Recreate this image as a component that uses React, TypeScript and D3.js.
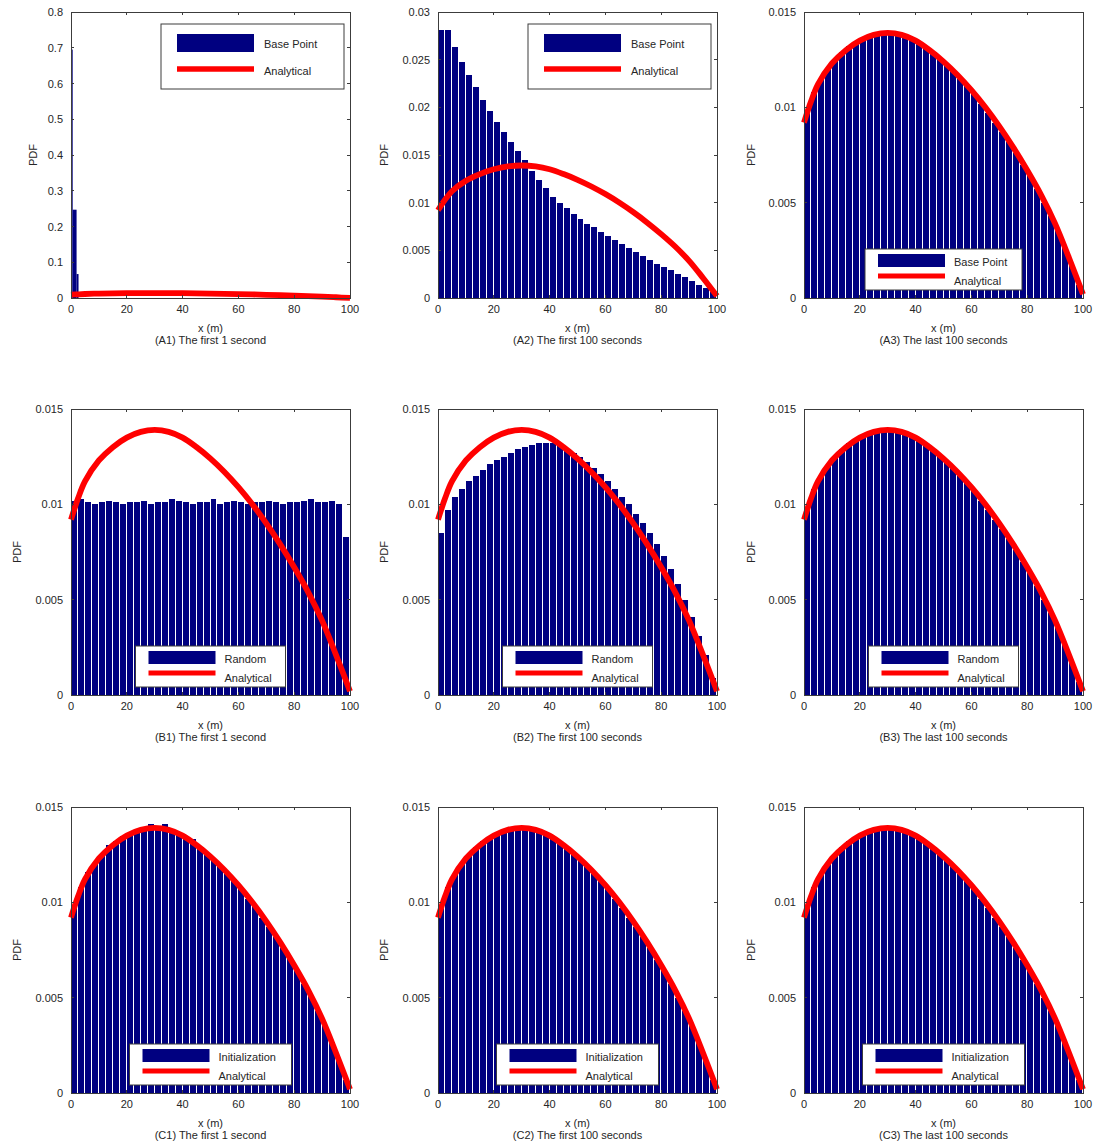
import React from "react";
import * as d3 from "d3";

// ---------- data ----------
const xTicks = [0, 20, 40, 60, 80, 100];
const yTicksA1 = [0, 0.1, 0.2, 0.3, 0.4, 0.5, 0.6, 0.7, 0.8];
const yLabelsA1 = ["0", "0.1", "0.2", "0.3", "0.4", "0.5", "0.6", "0.7", "0.8"];
const yTicksA2 = [0, 0.005, 0.01, 0.015, 0.02, 0.025, 0.03];
const yLabelsA2 = ["0", "0.005", "0.01", "0.015", "0.02", "0.025", "0.03"];
const yTicksPdf = [0, 0.005, 0.01, 0.015];
const yLabelsPdf = ["0", "0.005", "0.01", "0.015"];

// analytical PDF curve
const analyticalX = [0, 2.5, 5, 10, 15, 20, 25, 30, 35, 40, 45, 50, 55, 60, 65, 70, 75, 80, 85, 90, 95, 100];
const analyticalY = [0.0092, 0.0103, 0.0112, 0.0123, 0.0130, 0.0135, 0.0138, 0.0139, 0.0138, 0.0135, 0.0130, 0.0124, 0.0117, 0.0109, 0.0100, 0.0090, 0.0079, 0.0067, 0.0054, 0.0039, 0.0021, 0.0002];

// histogram bin width (m)
const binWidth = 2.5;

// A1: Base Point, first 1 second (irregular bins near the origin)
const a1BinStart = [0, 0.6, 2.0];
const a1BinEnd = [0.6, 2.0, 2.7];
const a1Values = [0.695, 0.247, 0.067];

// A2: Base Point, first 100 seconds
const a2Values = [
  0.0281, 0.0281, 0.0263, 0.0248, 0.0234, 0.0221, 0.0208, 0.0196, 0.0185, 0.0174,
  0.0164, 0.0154, 0.0145, 0.0133, 0.0124, 0.0115, 0.0106, 0.0100, 0.0094, 0.0088,
  0.0083, 0.0078, 0.0074, 0.0069, 0.0065, 0.0061, 0.0057, 0.0052, 0.0048, 0.0044,
  0.0040, 0.0036, 0.0032, 0.0029, 0.0025, 0.0022, 0.0018, 0.0014, 0.0010, 0.0006,
];

// B1: Random, first 1 second
const b1Values = [
  0.0102, 0.0103, 0.0101, 0.0100, 0.0101, 0.0102, 0.0101, 0.0100, 0.0101, 0.0101,
  0.0102, 0.0100, 0.0101, 0.0101, 0.0103, 0.0102, 0.0101, 0.0100, 0.0101, 0.0101,
  0.0103, 0.0100, 0.0101, 0.0102, 0.0101, 0.0100, 0.0101, 0.0101, 0.0102, 0.0101,
  0.0100, 0.0101, 0.0101, 0.0102, 0.0103, 0.0101, 0.0101, 0.0102, 0.0100, 0.0083,
];

// B2: Random, first 100 seconds
const b2Values = [
  0.0085, 0.0097, 0.0104, 0.0108, 0.0112, 0.0115, 0.0118, 0.0121, 0.0123, 0.0125,
  0.0127, 0.0129, 0.0130, 0.0131, 0.0132, 0.0132, 0.0132, 0.0131, 0.0129, 0.0127,
  0.0125, 0.0122, 0.0119, 0.0116, 0.0112, 0.0108, 0.0104, 0.0100, 0.0095, 0.0090,
  0.0085, 0.0079, 0.0073, 0.0066, 0.0058, 0.0050, 0.0041, 0.0031, 0.0021, 0.0009,
];

// converged histograms (A3, B3, C2, C3)
const convergedValues = [
  0.0098, 0.0108, 0.0115, 0.0120, 0.0125, 0.0129, 0.0132, 0.0134, 0.0136, 0.0137,
  0.0138, 0.0139, 0.0139, 0.0138, 0.0137, 0.0136, 0.0134, 0.0132, 0.0129, 0.0126,
  0.0122, 0.0119, 0.0115, 0.0111, 0.0107, 0.0102, 0.0097, 0.0092, 0.0087, 0.0082,
  0.0076, 0.0070, 0.0064, 0.0057, 0.0050, 0.0043, 0.0035, 0.0026, 0.0017, 0.0007,
];

// C1: Initialization, first 1 second
const c1Values = [
  0.0097, 0.0108, 0.0116, 0.0120, 0.0125, 0.0130, 0.0132, 0.0135, 0.0136, 0.0138,
  0.0138, 0.0141, 0.0140, 0.0141, 0.0137, 0.0137, 0.0135, 0.0133, 0.0129, 0.0126,
  0.0123, 0.0119, 0.0115, 0.0112, 0.0107, 0.0102, 0.0098, 0.0092, 0.0087, 0.0082,
  0.0076, 0.0071, 0.0064, 0.0057, 0.0051, 0.0043, 0.0035, 0.0027, 0.0017, 0.0007,
];

const titles = [
  "(A1) The first 1 second", "(A2) The first 100 seconds", "(A3) The last 100 seconds",
  "(B1) The first 1 second", "(B2) The first 100 seconds", "(B3) The last 100 seconds",
  "(C1) The first 1 second", "(C2) The first 100 seconds", "(C3) The last 100 seconds",
];

// ---------- layout ----------
const W = 1097;
const H = 1147;
const colLefts = [71, 438, 804];
const rowTops = [12, 409, 807];
const plotW = 279;
const plotH = 286;
const NAVY = "#000080";
const RED = "#ff0000";
const AXIS = "#3c3c3c";
const TEXT = "#262626";
const FONT = "'Liberation Sans', Arial, Helvetica, sans-serif";

type PanelCfg = {
  row: number;
  col: number;
  yMax: number;
  yTicks: number[];
  yLabels: string[];
  values: number[] | null;
  legendName: string;
  legendBig: boolean;
  legendW: number;
  pdfOffset: number;
  title: string;
};

const panels: PanelCfg[] = [
  { row: 0, col: 0, yMax: 0.8, yTicks: yTicksA1, yLabels: yLabelsA1, values: null, legendName: "Base Point", legendBig: true, legendW: 183, pdfOffset: 38, title: titles[0] },
  { row: 0, col: 1, yMax: 0.03, yTicks: yTicksA2, yLabels: yLabelsA2, values: a2Values, legendName: "Base Point", legendBig: true, legendW: 183, pdfOffset: 54, title: titles[1] },
  { row: 0, col: 2, yMax: 0.015, yTicks: yTicksPdf, yLabels: yLabelsPdf, values: convergedValues, legendName: "Base Point", legendBig: false, legendW: 157, pdfOffset: 53, title: titles[2] },
  { row: 1, col: 0, yMax: 0.015, yTicks: yTicksPdf, yLabels: yLabelsPdf, values: b1Values, legendName: "Random", legendBig: false, legendW: 150, pdfOffset: 54, title: titles[3] },
  { row: 1, col: 1, yMax: 0.015, yTicks: yTicksPdf, yLabels: yLabelsPdf, values: b2Values, legendName: "Random", legendBig: false, legendW: 150, pdfOffset: 54, title: titles[4] },
  { row: 1, col: 2, yMax: 0.015, yTicks: yTicksPdf, yLabels: yLabelsPdf, values: convergedValues, legendName: "Random", legendBig: false, legendW: 150, pdfOffset: 53, title: titles[5] },
  { row: 2, col: 0, yMax: 0.015, yTicks: yTicksPdf, yLabels: yLabelsPdf, values: c1Values, legendName: "Initialization", legendBig: false, legendW: 162, pdfOffset: 54, title: titles[6] },
  { row: 2, col: 1, yMax: 0.015, yTicks: yTicksPdf, yLabels: yLabelsPdf, values: convergedValues, legendName: "Initialization", legendBig: false, legendW: 162, pdfOffset: 54, title: titles[7] },
  { row: 2, col: 2, yMax: 0.015, yTicks: yTicksPdf, yLabels: yLabelsPdf, values: convergedValues, legendName: "Initialization", legendBig: false, legendW: 162, pdfOffset: 53, title: titles[8] },
];

function Panel({ cfg }: { cfg: PanelCfg }) {
  const left = colLefts[cfg.col];
  const top = rowTops[cfg.row];
  const x = d3.scaleLinear().domain([0, 100]).range([0, plotW]);
  const y = d3.scaleLinear().domain([0, cfg.yMax]).range([plotH, 0]);
  const line = d3
    .line<number>()
    .x((_, i) => x(analyticalX[i]))
    .y((d) => y(d))
    .curve(d3.curveCatmullRom.alpha(0.5));
  const tickLen = 3;

  const bars: React.ReactNode[] = [];
  if (cfg.values) {
    cfg.values.forEach((v, i) => {
      const x0 = x(i * binWidth);
      const x1 = x((i + 1) * binWidth);
      bars.push(
        <rect key={i} x={x0} y={y(v)} width={Math.max(0, x1 - x0 - 1)} height={plotH - y(v)} fill={NAVY} shapeRendering="crispEdges" />
      );
    });
  } else {
    a1Values.forEach((v, i) => {
      const x0 = x(a1BinStart[i]);
      const x1 = x(a1BinEnd[i]);
      bars.push(<rect key={i} x={x0} y={y(v)} width={x1 - x0} height={plotH - y(v)} fill={NAVY} />);
    });
  }

  let legend: React.ReactNode;
  if (cfg.legendBig) {
    const lx = plotW - 6 - cfg.legendW;
    const ly = 12;
    legend = (
      <g transform={`translate(${lx},${ly})`}>
        <rect x={0} y={0} width={cfg.legendW} height={65} fill="#fff" stroke={AXIS} strokeWidth={1} />
        <rect x={16} y={10} width={77} height={18} fill={NAVY} />
        <line x1={16} x2={93} y1={45} y2={45} stroke={RED} strokeWidth={5.5} />
        <text x={103} y={24} fontSize={11} fill={TEXT}>{cfg.legendName}</text>
        <text x={103} y={51} fontSize={11} fill={TEXT}>Analytical</text>
      </g>
    );
  } else {
    const lh = 41;
    const lx = (plotW - cfg.legendW) / 2;
    const ly = plotH - 8 - lh;
    legend = (
      <g transform={`translate(${lx},${ly})`}>
        <rect x={0} y={0} width={cfg.legendW} height={lh} fill="#fff" stroke={AXIS} strokeWidth={1} />
        <rect x={13} y={5} width={67} height={13} fill={NAVY} />
        <line x1={13} x2={80} y1={27} y2={27} stroke={RED} strokeWidth={5} />
        <text x={89} y={17} fontSize={11} fill={TEXT}>{cfg.legendName}</text>
        <text x={89} y={36} fontSize={11} fill={TEXT}>Analytical</text>
      </g>
    );
  }

  return (
    <g transform={`translate(${left},${top})`} fontFamily={FONT}>
      {bars}
      <path d={line(analyticalY) || ""} fill="none" stroke={RED} strokeWidth={5.8} strokeLinejoin="round" />
      <rect x={0} y={0} width={plotW} height={plotH} fill="none" stroke={AXIS} strokeWidth={1} shapeRendering="crispEdges" />
      {xTicks.map((t) => (
        <g key={"xt" + t}>
          <line x1={x(t)} x2={x(t)} y1={plotH} y2={plotH - tickLen} stroke={AXIS} shapeRendering="crispEdges" />
          <line x1={x(t)} x2={x(t)} y1={0} y2={tickLen} stroke={AXIS} shapeRendering="crispEdges" />
          <text x={x(t)} y={plotH + 15} fontSize={11} fill={TEXT} textAnchor="middle">{String(t)}</text>
        </g>
      ))}
      {cfg.yTicks.map((t, i) => (
        <g key={"yt" + i}>
          <line x1={0} x2={tickLen} y1={y(t)} y2={y(t)} stroke={AXIS} shapeRendering="crispEdges" />
          <line x1={plotW} x2={plotW - tickLen} y1={y(t)} y2={y(t)} stroke={AXIS} shapeRendering="crispEdges" />
          <text x={-8} y={y(t) + 4} fontSize={11} fill={TEXT} textAnchor="end">{cfg.yLabels[i]}</text>
        </g>
      ))}
      {legend}
      <text x={-cfg.pdfOffset} y={plotH / 2} fontSize={11} fill={TEXT} textAnchor="middle" transform={`rotate(-90,${-cfg.pdfOffset},${plotH / 2})`} dy={4}>PDF</text>
      <text x={plotW / 2} y={plotH + 34} fontSize={11} fill={TEXT} textAnchor="middle">x (m)</text>
      <text x={plotW / 2} y={plotH + 46} fontSize={11} fill={TEXT} textAnchor="middle">{cfg.title}</text>
    </g>
  );
}

export default function App() {
  return (
    <svg width={W} height={H} viewBox={`0 0 ${W} ${H}`} style={{ position: "absolute", left: 0, top: 0, background: "#fff" }}>
      <rect x={0} y={0} width={W} height={H} fill="#fff" />
      {panels.map((p, i) => (
        <Panel key={i} cfg={p} />
      ))}
    </svg>
  );
}
